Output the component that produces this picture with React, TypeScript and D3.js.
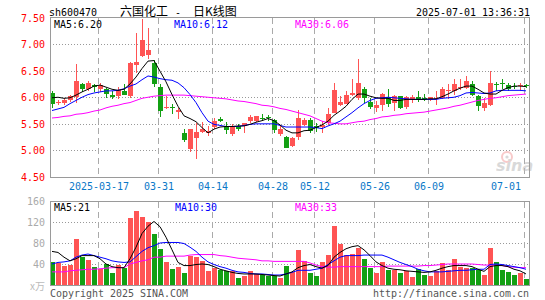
import * as d3 from "d3";

const dates = [
  "2025-03-05", "2025-03-06", "2025-03-07", "2025-03-10", "2025-03-11", "2025-03-12", "2025-03-13", "2025-03-14",
  "2025-03-17", "2025-03-18", "2025-03-19", "2025-03-20", "2025-03-21", "2025-03-24", "2025-03-25", "2025-03-26",
  "2025-03-27", "2025-03-28", "2025-03-31", "2025-04-01", "2025-04-02", "2025-04-03", "2025-04-07", "2025-04-08",
  "2025-04-09", "2025-04-10", "2025-04-11", "2025-04-14", "2025-04-15", "2025-04-16", "2025-04-17", "2025-04-18",
  "2025-04-21", "2025-04-22", "2025-04-23", "2025-04-24", "2025-04-25", "2025-04-28", "2025-04-29", "2025-04-30",
  "2025-05-06", "2025-05-07", "2025-05-08", "2025-05-09", "2025-05-12", "2025-05-13", "2025-05-14", "2025-05-15",
  "2025-05-16", "2025-05-19", "2025-05-20", "2025-05-21", "2025-05-22", "2025-05-23", "2025-05-26", "2025-05-27",
  "2025-05-28", "2025-05-29", "2025-05-30", "2025-06-03", "2025-06-04", "2025-06-05", "2025-06-06", "2025-06-09",
  "2025-06-10", "2025-06-11", "2025-06-12", "2025-06-13", "2025-06-16", "2025-06-17", "2025-06-18", "2025-06-19",
  "2025-06-20", "2025-06-23", "2025-06-24", "2025-06-25", "2025-06-26", "2025-06-27", "2025-06-30", "2025-07-01",
];

const opens = [
  6.08, 5.89, 5.90, 5.94, 6.00, 6.25, 6.15, 6.23, 6.16, 6.15, 6.05, 6.02, 6.12, 6.02, 6.60, 6.78,
  6.80, 6.65, 6.19, 5.79, 5.81, 5.73, 5.33, 5.02, 5.23, 5.35, 5.33, 5.44, 5.60, 5.46, 5.30, 5.46,
  5.45, 5.56, 5.56, 5.61, 5.62, 5.58, 5.31, 5.25, 5.08, 5.26, 5.48, 5.58, 5.45, 5.44, 5.51, 5.71,
  5.85, 5.88, 6.05, 5.99, 6.16, 5.91, 5.79, 5.85, 6.00, 5.90, 6.02, 5.82, 5.97, 6.00, 5.99, 5.95,
  5.97, 5.98, 6.13, 6.11, 6.17, 6.18, 6.25, 6.02, 5.80, 5.86, 6.24, 6.27, 6.23, 6.22, 6.21, 6.23,
];
const highs = [
  6.11, 5.95, 5.99, 6.05, 6.63, 6.26, 6.30, 6.24, 6.26, 6.18, 6.12, 6.20, 6.25, 6.66, 7.20, 7.47,
  7.30, 6.70, 6.25, 6.02, 5.88, 5.80, 5.41, 5.41, 5.52, 5.54, 5.45, 5.61, 5.63, 5.53, 5.50, 5.50,
  5.51, 5.66, 5.65, 5.68, 5.66, 5.59, 5.45, 5.27, 5.25, 5.76, 5.61, 5.61, 5.51, 5.56, 5.80, 6.27,
  6.02, 6.11, 6.35, 6.72, 6.19, 5.99, 5.93, 6.08, 6.16, 6.05, 6.03, 6.02, 6.05, 6.12, 6.07, 6.01,
  6.12, 6.20, 6.24, 6.35, 6.34, 6.40, 6.30, 6.05, 5.99, 6.49, 6.28, 6.35, 6.26, 6.26, 6.26, 6.24,
];
const lows = [
  5.79, 5.85, 5.85, 5.91, 5.90, 6.10, 6.12, 6.10, 6.10, 5.98, 5.96, 5.96, 6.05, 5.98, 6.45, 6.75,
  6.72, 6.19, 5.63, 5.78, 5.68, 5.60, 5.16, 4.97, 4.83, 5.33, 5.28, 5.41, 5.53, 5.30, 5.28, 5.37,
  5.32, 5.52, 5.54, 5.55, 5.55, 5.33, 5.28, 5.04, 5.06, 5.20, 5.45, 5.33, 5.35, 5.32, 5.48, 5.70,
  5.83, 5.87, 6.02, 5.94, 5.90, 5.77, 5.72, 5.75, 5.81, 5.75, 5.77, 5.77, 5.89, 5.92, 5.93, 5.93,
  5.85, 5.96, 5.96, 6.04, 6.14, 6.15, 6.02, 5.74, 5.74, 5.83, 6.11, 6.15, 6.12, 6.15, 6.12, 6.18,
];
const closes = [
  5.88, 5.91, 5.94, 6.02, 6.31, 6.16, 6.27, 6.19, 6.23, 6.07, 6.01, 6.13, 6.05, 6.65, 6.67, 7.08,
  6.89, 6.24, 5.75, 5.82, 5.80, 5.76, 5.19, 5.40, 5.35, 5.40, 5.36, 5.55, 5.55, 5.39, 5.45, 5.41,
  5.51, 5.63, 5.64, 5.60, 5.61, 5.38, 5.40, 5.05, 5.23, 5.61, 5.58, 5.36, 5.43, 5.48, 5.68, 6.14,
  5.91, 6.05, 6.08, 6.27, 5.99, 5.82, 5.86, 6.06, 5.88, 6.02, 5.80, 6.00, 6.00, 5.94, 5.96, 6.00,
  5.99, 6.15, 6.14, 6.25, 6.19, 6.31, 6.05, 5.83, 5.90, 6.27, 6.23, 6.26, 6.16, 6.21, 6.23, 6.21,
];
const volumes = [
  44, 42, 37, 39, 88, 53, 48, 35, 30, 40, 22, 39, 33, 127, 141, 130,
  120, 97, 68, 44, 31, 35, 22, 55, 53, 45, 26, 33, 28, 26, 27, 14,
  17, 26, 21, 19, 17, 18, 13, 37, 25, 66, 46, 23, 17, 43, 58, 112,
  79, 58, 60, 70, 50, 33, 22, 43, 29, 29, 22, 26, 15, 30, 19, 17,
  27, 41, 28, 50, 35, 32, 33, 29, 19, 70, 44, 29, 25, 19, 23, 12,
];

const ma5 = [
  5.99, 6.0, 5.98, 5.99, 6.04, 6.1, 6.15, 6.21, 6.23, 6.19, 6.15, 6.13, 6.15, 6.25, 6.38, 6.54,
  6.68, 6.69, 6.49, 6.29, 6.05, 5.83, 5.65, 5.6, 5.54, 5.43, 5.33, 5.4, 5.44, 5.45, 5.45, 5.46,
  5.46, 5.49, 5.53, 5.56, 5.6, 5.56, 5.48, 5.38, 5.33, 5.33, 5.37, 5.38, 5.43, 5.48, 5.55, 5.66,
  5.74, 5.83, 5.96, 6.06, 6.06, 6.02, 5.99, 5.98, 5.98, 5.94, 5.94, 5.96, 5.96, 5.96, 5.96, 5.97,
  5.97, 6.01, 6.06, 6.12, 6.17, 6.21, 6.21, 6.15, 6.08, 6.06, 6.06, 6.13, 6.18, 6.21, 6.21, 6.2,
];
const ma10 = [
  5.75, 5.78, 5.81, 5.88, 5.94, 6.0, 6.05, 6.08, 6.1, 6.12, 6.12, 6.13, 6.16, 6.21, 6.25, 6.33,
  6.4, 6.38, 6.35, 6.33, 6.32, 6.27, 6.18, 6.05, 5.9, 5.71, 5.55, 5.49, 5.47, 5.45, 5.45, 5.45,
  5.47, 5.49, 5.5, 5.5, 5.5, 5.5, 5.47, 5.44, 5.44, 5.44, 5.44, 5.44, 5.43, 5.41, 5.46, 5.5,
  5.55, 5.63, 5.71, 5.8, 5.88, 5.94, 5.98, 5.99, 6.0, 5.99, 5.98, 5.97, 5.96, 5.96, 5.96, 5.96,
  5.96, 5.98, 5.99, 6.0, 6.03, 6.08, 6.09, 6.08, 6.07, 6.08, 6.12, 6.13, 6.13, 6.13, 6.13, 6.12,
];
const ma30 = [
  5.61, 5.62, 5.64, 5.65, 5.68, 5.69, 5.71, 5.74, 5.76, 5.8, 5.83, 5.85, 5.88, 5.9, 5.94, 5.98,
  6.0, 6.02, 6.03, 6.04, 6.04, 6.04, 6.04, 6.03, 6.02, 6.01, 6.0, 5.99, 5.98, 5.97, 5.95, 5.93,
  5.92, 5.9, 5.88, 5.85, 5.84, 5.82, 5.79, 5.77, 5.74, 5.71, 5.68, 5.65, 5.6, 5.55, 5.52, 5.51,
  5.5, 5.5, 5.52, 5.54, 5.55, 5.58, 5.6, 5.63, 5.64, 5.66, 5.67, 5.69, 5.7, 5.71, 5.72, 5.74,
  5.76, 5.78, 5.8, 5.83, 5.85, 5.88, 5.91, 5.94, 5.96, 5.98, 5.99, 6.01, 6.03, 6.04, 6.05, 6.06,
];
const volMa5 = [
  64, 62, 53, 46, 50, 56, 56, 56, 50, 40, 35, 33, 33, 50, 72, 98,
  112, 121, 111, 91, 67, 43, 37, 37, 39, 40, 39, 35, 30, 27, 24, 22,
  21, 21, 21, 20, 19, 18, 17, 21, 25, 33, 37, 39, 35, 32, 37, 53,
  62, 69, 73, 75, 67, 56, 44, 37, 32, 30, 29, 27, 26, 25, 24, 25,
  28, 32, 35, 37, 37, 37, 35, 30, 26, 35, 37, 37, 35, 30, 27, 21,
];
const volMa10 = [
  40, 43, 44, 46, 53, 57, 59, 56, 53, 50, 46, 44, 43, 44, 54, 64,
  71, 75, 80, 81, 81, 81, 79, 72, 64, 53, 44, 39, 35, 32, 28, 25,
  24, 22, 21, 21, 20, 19, 19, 21, 24, 28, 28, 28, 30, 32, 39, 46,
  53, 56, 56, 56, 57, 57, 57, 57, 53, 48, 43, 39, 35, 30, 27, 25,
  25, 25, 26, 27, 28, 28, 29, 30, 30, 39, 40, 39, 37, 35, 33, 30,
];
const volMa30 = [
  25, 25, 25, 27, 28, 29, 30, 30, 31, 32, 33, 33, 33, 40, 43, 46,
  48, 53, 53, 55, 55, 55, 55, 57, 58, 58, 58, 58, 56, 55, 53, 51,
  50, 49, 48, 46, 46, 45, 45, 45, 45, 45, 45, 42, 38, 35, 34, 34,
  35, 35, 35, 35, 35, 35, 35, 35, 36, 36, 36, 36, 36, 36, 37, 37,
  38, 39, 40, 40, 40, 40, 40, 39, 38, 38, 38, 37, 35, 34, 33, 33,
];

const priceTicks = [7.5, 7.0, 6.5, 6.0, 5.5, 5.0, 4.5];
const volumeTicks = [160, 120, 80, 40];
const markedDates = [
  "2025-03-17", "2025-03-31", "2025-04-14", "2025-04-28", "2025-05-12", "2025-05-26", "2025-06-09", "2025-07-01",
];

const RED = "#ff5454";
const GREEN = "#13a013";
const FRAME = "#9a9a9a";
const MONO = "'DejaVu Sans Mono', 'Liberation Mono', monospace";

function Mono({ x, y, text, fill = "#000", anchor = "start" }: { x: number; y: number; text: string; fill?: string; anchor?: string }) {
  return (
    <text
      x={x}
      y={y}
      fill={fill}
      textAnchor={anchor}
      fontSize={11}
      fontFamily={MONO}
      textLength={text.length * 6}
      lengthAdjust="spacingAndGlyphs"
    >
      {text}
    </text>
  );
}

export default function App() {
  const width = 545;
  const height = 300;
  const left = 50;
  const right = 529.5;
  const mainTop = 17.5;
  const mainBottom = 177.5;
  const volTop = 201.5;
  const volBottom = 285.5;

  const x = d3.scaleBand<string>().domain(dates).range([49, 529]).padding(0);
  const cx = (d: string) => (x(d) ?? 0) + 3;
  const y = d3.scaleLinear().domain([4.5, 7.5]).range([177, 17.5]);
  const yv = d3.scaleLinear().domain([0, 160]).range([285, 201]);

  const priceLine = (vals: number[]) =>
    d3.line<number>().x((_, i) => cx(dates[i])).y((v) => y(v))(vals) ?? "";
  const volLine = (vals: number[]) =>
    d3.line<number>().x((_, i) => cx(dates[i])).y((v) => yv(v))(vals) ?? "";

  const up = (i: number) => closes[i] >= opens[i];

  return (
    <svg
      width={width}
      height={height}
      viewBox={`0 0 ${width} ${height}`}
      style={{ position: "absolute", left: 0, top: 0, background: "#fff" }}
    >
      {/* header */}
      <Mono x={49} y={16} text="sh600470" />
      <text x={120} y={16} fontSize={12} fontFamily="'Noto Sans CJK SC', sans-serif" fill="#000">
        六国化工
      </text>
      <Mono x={175} y={16} text="-" />
      <text x={193} y={16} fontSize={12} fontFamily="'Noto Sans CJK SC', sans-serif" fill="#000">
        日K线图
      </text>
      <Mono x={530} y={16} text="2025-07-01 13:36:31" anchor="end" />

      {/* grids */}
      <g shapeRendering="crispEdges">
        {priceTicks.slice(1, -1).map((t) => (
          <line key={`pg-${t}`} x1={left} x2={right} y1={Math.round(y(t)) + 0.5} y2={Math.round(y(t)) + 0.5}
            stroke="#999" strokeDasharray="1,2" />
        ))}
        {volumeTicks.slice(1).map((t) => (
          <line key={`vg-${t}`} x1={left} x2={right} y1={Math.round(yv(t)) + 0.5} y2={Math.round(yv(t)) + 0.5}
            stroke="#999" strokeDasharray="1,2" />
        ))}
        {markedDates.map((d) => (
          <g key={`vx-${d}`}>
            <line x1={(x(d) ?? 0) + 1.5} x2={(x(d) ?? 0) + 1.5} y1={mainTop} y2={mainBottom}
              stroke="#aaa" strokeDasharray="6,4" />
            <line x1={(x(d) ?? 0) + 1.5} x2={(x(d) ?? 0) + 1.5} y1={volTop} y2={volBottom}
              stroke="#aaa" strokeDasharray="6,4" />
          </g>
        ))}
      </g>

      {/* sina watermark */}
      <g opacity={0.55}>
        <circle cx={507} cy={157} r={5} fill="none" stroke="#f4a0a0" strokeWidth={2} />
        <circle cx={507} cy={157} r={1.6} fill="#bbb" />
        <text x={496} y={171} fontSize={16} fontStyle="italic" fontWeight="bold" fontFamily="'DejaVu Sans', sans-serif" fill="#bbb">
          sina
        </text>
      </g>

      {/* candles */}
      <g shapeRendering="crispEdges">
        {dates.map((d, i) => {
          const bx = x(d) ?? 0;
          const col = up(i) ? RED : GREEN;
          const top = y(Math.max(opens[i], closes[i]));
          const bot = y(Math.min(opens[i], closes[i]));
          return (
            <g key={`c-${d}`}>
              <rect x={bx + 3} y={y(highs[i])} width={1} height={Math.max(1, y(lows[i]) - y(highs[i]))} fill={col} />
              <rect x={bx + 1} y={top} width={5} height={Math.max(1, bot - top)} fill={col} />
            </g>
          );
        })}
        {dates.map((d, i) => (
          <rect key={`v-${d}`} x={(x(d) ?? 0) + 1} y={yv(volumes[i])} width={5} height={yv(0) - yv(volumes[i])}
            fill={up(i) ? RED : GREEN} />
        ))}
      </g>

      {/* moving averages */}
      <g fill="none" strokeWidth={1}>
        <path d={priceLine(ma30)} stroke="#ff00ff" />
        <path d={priceLine(ma10)} stroke="#0000ff" />
        <path d={priceLine(ma5)} stroke="#000" />
        <path d={volLine(volMa30)} stroke="#ff00ff" />
        <path d={volLine(volMa10)} stroke="#0000ff" />
        <path d={volLine(volMa5)} stroke="#000" />
      </g>

      {/* frames */}
      <g fill="none" stroke={FRAME} shapeRendering="crispEdges">
        <rect x={left + 0.5} y={mainTop} width={right - left - 0.5} height={mainBottom - mainTop} />
        <rect x={left + 0.5} y={volTop} width={right - left - 0.5} height={volBottom - volTop} />
      </g>

      {/* legends */}
      <Mono x={54} y={28} text={`MA5:${ma5[ma5.length - 1].toFixed(2)}`} fill="#000" />
      <Mono x={174} y={28} text={`MA10:${ma10[ma10.length - 1].toFixed(2)}`} fill="#0000ff" />
      <Mono x={295} y={28} text={`MA30:${ma30[ma30.length - 1].toFixed(2)}`} fill="#ff00ff" />
      <Mono x={54} y={211} text={`MA5:${volMa5[volMa5.length - 1]}`} fill="#000" />
      <Mono x={175} y={211} text={`MA10:${volMa10[volMa10.length - 1]}`} fill="#0000ff" />
      <Mono x={295} y={211} text={`MA30:${volMa30[volMa30.length - 1]}`} fill="#ff00ff" />

      {/* price axis */}
      {priceTicks.map((t) => (
        <Mono key={`pt-${t}`} x={45} y={y(t) + 4} text={t.toFixed(2)} fill="#ff0000" anchor="end" />
      ))}
      {/* volume axis */}
      {volumeTicks.map((t) => (
        <Mono key={`vt-${t}`} x={45} y={yv(t) + 4} text={String(t)} fill="#aaa" anchor="end" />
      ))}
      <text x={45} y={290} textAnchor="end" fontSize={10} fontFamily="'Noto Sans CJK SC', sans-serif" fill="#bbb">
        x万
      </text>

      {/* date axis */}
      {markedDates.map((d, i) => {
        const label = i === 0 ? d : d.slice(5);
        const half = (label.length * 6) / 2;
        const c = Math.min(cx(d) - 1, 521 - half);
        return <Mono key={`xl-${d}`} x={c} y={190} text={label} fill="#0a78c8" anchor="middle" />;
      })}

      {/* footer */}
      <Mono x={50} y={297} text="Copyright 2025 SINA.COM" fill="#555" />
      <Mono x={529} y={297} text="http://finance.sina.com.cn" fill="#555" anchor="end" />
    </svg>
  );
}
